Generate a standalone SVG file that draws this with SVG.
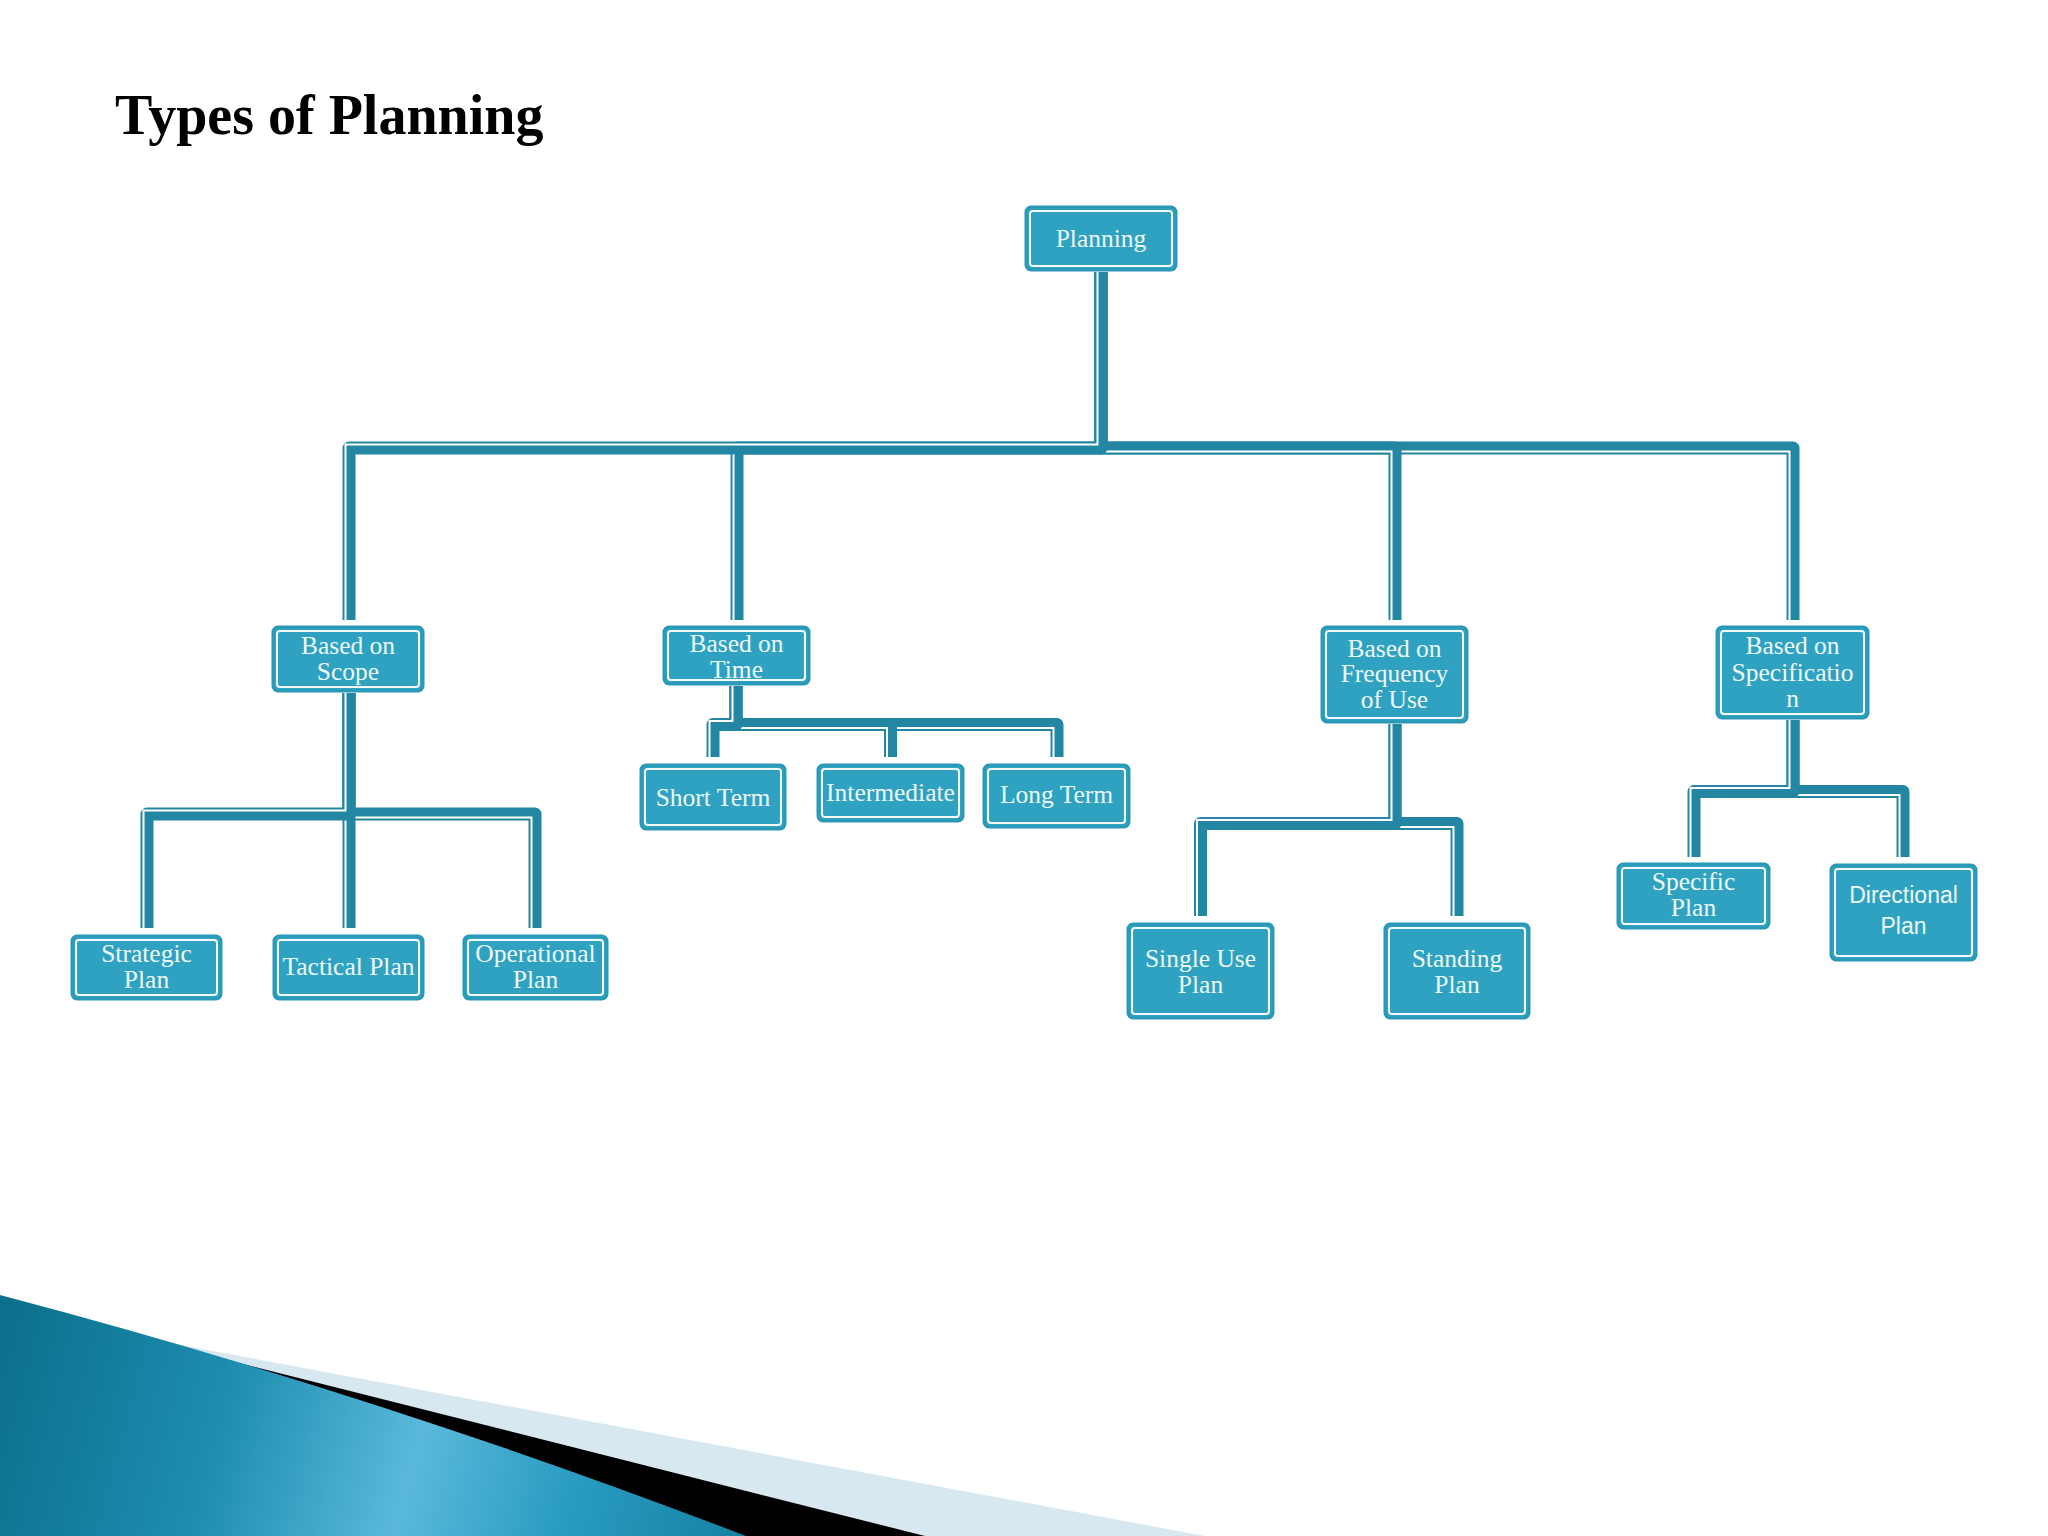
<svg xmlns="http://www.w3.org/2000/svg" width="2048" height="1536" viewBox="0 0 2048 1536">
<defs>
<style>
.o{fill:#2ea2c0;stroke:#2a99b7;stroke-width:3}
.i{fill:none;stroke:#f4fbfd;stroke-width:2}
.lbl{font-family:"Liberation Serif","Times New Roman",serif;font-size:25.5px;fill:#eef9fc;text-anchor:middle}
.sans{font-family:"Liberation Sans",Arial,sans-serif;font-size:23px}
.c{fill:none;stroke:#2386a2;stroke-width:13;stroke-linejoin:round}
.w{fill:none;stroke:#ffffff;stroke-width:2}
.title{font-family:"Liberation Serif","Times New Roman",serif;font-size:56px;font-weight:bold;fill:#000000}
</style>
<linearGradient id="blue" gradientUnits="userSpaceOnUse" x1="0" y1="1330" x2="760" y2="1536">
<stop offset="0" stop-color="#0c6f8c"/>
<stop offset="0.3" stop-color="#1d8db0"/>
<stop offset="0.55" stop-color="#5ab9da"/>
<stop offset="0.75" stop-color="#2a9cc2"/>
<stop offset="1" stop-color="#137fa2"/>
</linearGradient>
</defs>
<rect x="0" y="0" width="2048" height="1536" fill="#ffffff"/>
<g id="decoration">
<polygon points="100,1330 1205,1536 880,1536" fill="#d7e8f1"/>
<polygon points="100,1328 925,1536 700,1536" fill="#000000"/>
<path d="M0,1295 Q380,1395 746,1536 L0,1536 Z" fill="url(#blue)"/>
</g>
<text class="title" x="115" y="134">Types of Planning</text>
<g id="connectors">
<g><polyline class="c" points="1101,272 1101,448 1793,448 1793,620"/><polyline class="w" points="1097.5,272 1097.5,451.5 1789.5,451.5 1789.5,620"/></g>
<g><polyline class="c" points="1101,272 1101,448 1395,448 1395,620"/><polyline class="w" points="1097.5,272 1097.5,451.5 1391.5,451.5 1391.5,620"/></g>
<g><polyline class="c" points="1101,272 1101,448 737,448 737,620"/><polyline class="w" points="1097.5,272 1097.5,444.5 733.5,444.5 733.5,620"/></g>
<g><polyline class="c" points="1101,272 1101,448 349,448 349,620"/><polyline class="w" points="1097.5,272 1097.5,444.5 345.5,444.5 345.5,620"/></g>
<g><polyline class="c" points="349,693 349,814 535,814 535,928"/><polyline class="w" points="345.5,693 345.5,817.5 531.5,817.5 531.5,928"/></g>
<g><polyline class="c" points="349,693 349,928"/><polyline class="w" points="345.5,693 345.5,928"/></g>
<g><polyline class="c" points="349,693 349,814 147,814 147,928"/><polyline class="w" points="345.5,693 345.5,810.5 143.5,810.5 143.5,928"/></g>
<g><polyline class="c" points="736,686 736,724.5 1057,724.5 1057,757"/><polyline class="w" points="732.5,686 732.5,728 1053.5,728 1053.5,757"/></g>
<g><polyline class="c" points="736,686 736,724.5 890.5,724.5 890.5,757"/><polyline class="w" points="732.5,686 732.5,728 887,728 887,757"/></g>
<g><polyline class="c" points="736,686 736,724.5 713,724.5 713,757"/><polyline class="w" points="732.5,686 732.5,721 709.5,721 709.5,757"/></g>
<g><polyline class="c" points="1395,724 1395,823.5 1457,823.5 1457,916"/><polyline class="w" points="1391.5,724 1391.5,827 1453.5,827 1453.5,916"/></g>
<g><polyline class="c" points="1395,724 1395,823.5 1200.5,823.5 1200.5,916"/><polyline class="w" points="1391.5,724 1391.5,820 1197,820 1197,916"/></g>
<g><polyline class="c" points="1793,720 1793,791.5 1903,791.5 1903,857"/><polyline class="w" points="1789.5,720 1789.5,795 1899.5,795 1899.5,857"/></g>
<g><polyline class="c" points="1793,720 1793,791.5 1694,791.5 1694,857"/><polyline class="w" points="1789.5,720 1789.5,788 1690.5,788 1690.5,857"/></g>
</g>
<g id="n-planning"><rect class="o" x="1026" y="207" width="150" height="63" rx="5"/><rect class="i" x="1030" y="211" width="142" height="55" rx="3"/><text class="lbl" x="1101" y="247">Planning</text></g>
<g id="n-scope"><rect class="o" x="273" y="627" width="150" height="64" rx="5"/><rect class="i" x="277" y="631" width="142" height="56" rx="3"/><text class="lbl" x="348" y="654">Based on</text><text class="lbl" x="348" y="680">Scope</text></g>
<g id="n-time"><rect class="o" x="664" y="627" width="145" height="57" rx="5"/><rect class="i" x="668" y="631" width="137" height="49" rx="3"/><text class="lbl" x="736.5" y="652">Based on</text><text class="lbl" x="736.5" y="678">Time</text></g>
<g id="n-frequency"><rect class="o" x="1322" y="627" width="145" height="95" rx="5"/><rect class="i" x="1326" y="631" width="137" height="87" rx="3"/><text class="lbl" x="1394.5" y="657">Based on</text><text class="lbl" x="1394.5" y="682">Frequency</text><text class="lbl" x="1394.5" y="708">of Use</text></g>
<g id="n-specification"><rect class="o" x="1717" y="627" width="151" height="91" rx="5"/><rect class="i" x="1721" y="631" width="143" height="83" rx="3"/><text class="lbl" x="1792.5" y="654">Based on</text><text class="lbl" x="1792.5" y="681">Specificatio</text><text class="lbl" x="1792.5" y="707">n</text></g>
<g id="n-strategic"><rect class="o" x="72" y="936" width="149" height="63" rx="5"/><rect class="i" x="76" y="940" width="141" height="55" rx="3"/><text class="lbl" x="146.5" y="962">Strategic</text><text class="lbl" x="146.5" y="988">Plan</text></g>
<g id="n-tactical"><rect class="o" x="274" y="936" width="149" height="63" rx="5"/><rect class="i" x="278" y="940" width="141" height="55" rx="3"/><text class="lbl" x="348.5" y="975">Tactical Plan</text></g>
<g id="n-operational"><rect class="o" x="464" y="936" width="143" height="63" rx="5"/><rect class="i" x="468" y="940" width="135" height="55" rx="3"/><text class="lbl" x="535.5" y="962">Operational</text><text class="lbl" x="535.5" y="988">Plan</text></g>
<g id="n-short"><rect class="o" x="641" y="765" width="144" height="64" rx="5"/><rect class="i" x="645" y="769" width="136" height="56" rx="3"/><text class="lbl" x="713" y="806">Short Term</text></g>
<g id="n-intermediate"><rect class="o" x="818" y="765" width="145" height="56" rx="5"/><rect class="i" x="822" y="769" width="137" height="48" rx="3"/><text class="lbl" x="890.5" y="801">Intermediate</text></g>
<g id="n-long"><rect class="o" x="984" y="765" width="145" height="62" rx="5"/><rect class="i" x="988" y="769" width="137" height="54" rx="3"/><text class="lbl" x="1056.5" y="803">Long Term</text></g>
<g id="n-singleuse"><rect class="o" x="1128" y="924" width="145" height="94" rx="5"/><rect class="i" x="1132" y="928" width="137" height="86" rx="3"/><text class="lbl" x="1200.5" y="967">Single Use</text><text class="lbl" x="1200.5" y="993">Plan</text></g>
<g id="n-standing"><rect class="o" x="1385" y="924" width="144" height="94" rx="5"/><rect class="i" x="1389" y="928" width="136" height="86" rx="3"/><text class="lbl" x="1457" y="967">Standing</text><text class="lbl" x="1457" y="993">Plan</text></g>
<g id="n-specific"><rect class="o" x="1618" y="864" width="151" height="64" rx="5"/><rect class="i" x="1622" y="868" width="143" height="56" rx="3"/><text class="lbl" x="1693.5" y="890">Specific</text><text class="lbl" x="1693.5" y="916">Plan</text></g>
<g id="n-directional"><rect class="o" x="1831" y="865" width="145" height="95" rx="5"/><rect class="i" x="1835" y="869" width="137" height="87" rx="3"/><text class="lbl sans" x="1903.5" y="903">Directional</text><text class="lbl sans" x="1903.5" y="934">Plan</text></g>
</svg>
